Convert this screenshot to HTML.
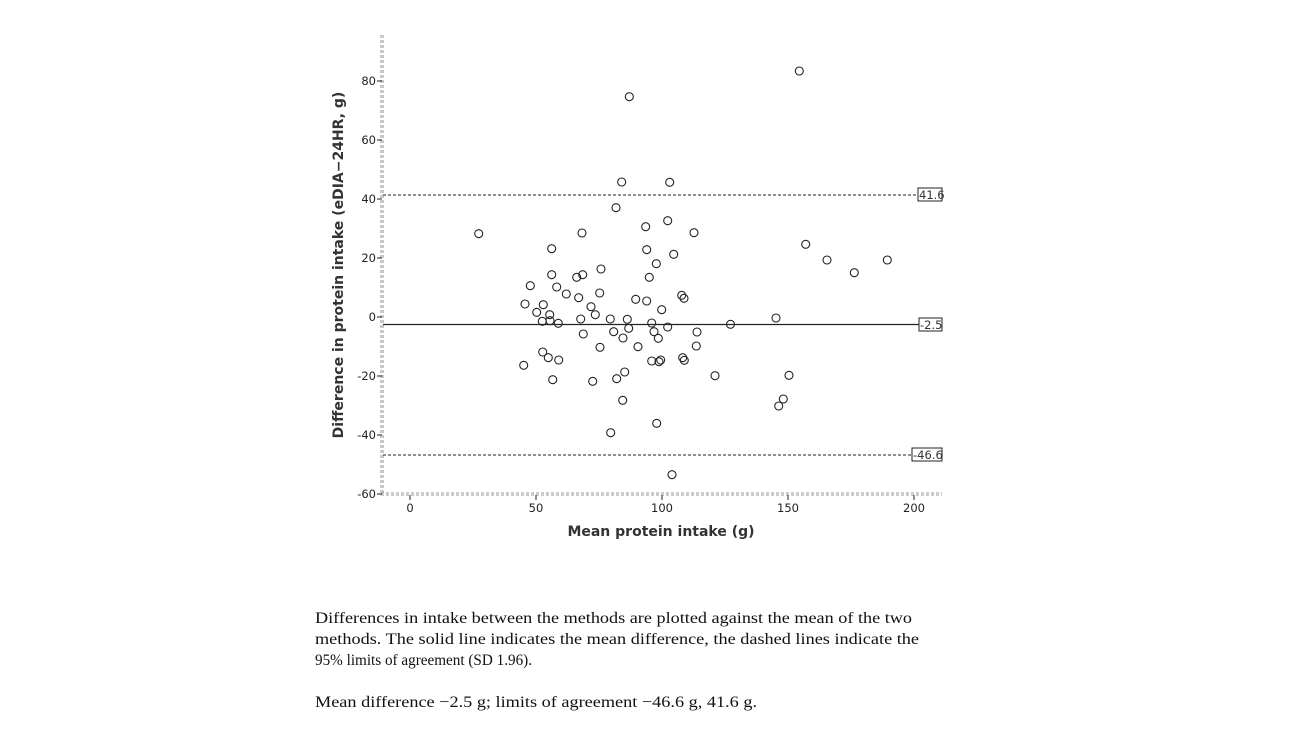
<!DOCTYPE html>
<html><head><meta charset="utf-8"><style>
html,body{margin:0;padding:0;background:#fff;}
svg{display:block;}
</style></head><body>
<svg width="1300" height="735" viewBox="0 0 1300 735" xmlns="http://www.w3.org/2000/svg">
<rect width="1300" height="735" fill="#fff"/>
<line x1="381" y1="35" x2="381" y2="495" stroke="#777" stroke-width="0.8" stroke-dasharray="3,2"/>
<line x1="383" y1="35" x2="383" y2="495" stroke="#777" stroke-width="0.8" stroke-dasharray="3,2"/>
<line x1="381" y1="493" x2="942" y2="493" stroke="#777" stroke-width="0.8" stroke-dasharray="3,2"/>
<line x1="381" y1="495" x2="942" y2="495" stroke="#777" stroke-width="0.8" stroke-dasharray="3,2"/>
<g stroke="#222" stroke-width="1">
<line x1="377" y1="81" x2="382" y2="81"/><line x1="377" y1="140" x2="382" y2="140"/>
<line x1="377" y1="199" x2="382" y2="199"/><line x1="377" y1="258" x2="382" y2="258"/>
<line x1="377" y1="317" x2="382" y2="317"/><line x1="377" y1="376" x2="382" y2="376"/>
<line x1="377" y1="435" x2="382" y2="435"/><line x1="377" y1="494" x2="382" y2="494"/>
<line x1="410" y1="495" x2="410" y2="500"/><line x1="536" y1="495" x2="536" y2="500"/>
<line x1="662" y1="495" x2="662" y2="500"/><line x1="788" y1="495" x2="788" y2="500"/>
<line x1="914" y1="495" x2="914" y2="500"/>
</g>
<g font-family="DejaVu Sans, sans-serif" font-size="11.5" fill="#222" text-anchor="end">
<text x="376" y="85">80</text><text x="376" y="144">60</text><text x="376" y="203">40</text>
<text x="376" y="262">20</text><text x="376" y="321">0</text><text x="376" y="380">-20</text>
<text x="376" y="439">-40</text><text x="376" y="498">-60</text>
</g>
<g font-family="DejaVu Sans, sans-serif" font-size="11.5" fill="#222" text-anchor="middle">
<text x="410" y="512">0</text><text x="536" y="512">50</text><text x="662" y="512">100</text>
<text x="788" y="512">150</text><text x="914" y="512">200</text>
</g>
<text x="661" y="536" font-family="DejaVu Sans, sans-serif" font-size="14" font-weight="bold" fill="#333" text-anchor="middle">Mean protein intake (g)</text>
<text transform="translate(343,265) rotate(-90)" font-family="DejaVu Sans, sans-serif" font-size="14" font-weight="bold" fill="#333" text-anchor="middle">Difference in protein intake (eDIA−24HR, g)</text>
<line x1="383" y1="195" x2="918" y2="195" stroke="#222" stroke-dasharray="3,2"/>
<line x1="383" y1="324.5" x2="919" y2="324.5" stroke="#222" stroke-width="1.2"/>
<line x1="383" y1="455" x2="912" y2="455" stroke="#222" stroke-dasharray="3,2"/>
<g font-family="DejaVu Sans, sans-serif" font-size="11.5" fill="#333">
<rect x="918" y="188" width="24" height="13" fill="#fff" stroke="#222"/><text x="919" y="199">41.6</text>
<rect x="919" y="318" width="23" height="13" fill="#fff" stroke="#222"/><text x="920" y="329">-2.5</text>
<rect x="912" y="448" width="30" height="13" fill="#fff" stroke="#222"/><text x="913" y="459">-46.6</text>
</g>
<g fill="none" stroke="#222" stroke-width="1.1">
<circle cx="478.7" cy="233.7" r="4"/><circle cx="629.3" cy="96.7" r="4"/><circle cx="799.3" cy="71" r="4"/>
<circle cx="621.7" cy="182" r="4"/><circle cx="669.7" cy="182.3" r="4"/><circle cx="616" cy="207.7" r="4"/>
<circle cx="582" cy="233" r="4"/><circle cx="645.7" cy="226.7" r="4"/><circle cx="667.7" cy="220.7" r="4"/>
<circle cx="694" cy="232.7" r="4"/><circle cx="551.7" cy="248.7" r="4"/><circle cx="646.7" cy="249.7" r="4"/>
<circle cx="673.7" cy="254.3" r="4"/><circle cx="656.3" cy="263.7" r="4"/><circle cx="601" cy="269" r="4"/>
<circle cx="551.7" cy="274.7" r="4"/><circle cx="576.7" cy="277.3" r="4"/><circle cx="582.7" cy="274.7" r="4"/>
<circle cx="649.3" cy="277.3" r="4"/><circle cx="530.3" cy="285.7" r="4"/><circle cx="556.7" cy="287" r="4"/>
<circle cx="566.3" cy="294" r="4"/><circle cx="599.7" cy="293" r="4"/><circle cx="578.7" cy="297.7" r="4"/>
<circle cx="681.7" cy="295.3" r="4"/><circle cx="684" cy="298.3" r="4"/><circle cx="635.7" cy="299.3" r="4"/>
<circle cx="646.7" cy="301" r="4"/><circle cx="525" cy="304" r="4"/><circle cx="543.3" cy="304.7" r="4"/>
<circle cx="536.7" cy="312.3" r="4"/><circle cx="549.7" cy="314.7" r="4"/><circle cx="542.3" cy="321.3" r="4"/>
<circle cx="550" cy="320.7" r="4"/><circle cx="558.3" cy="323.3" r="4"/><circle cx="591" cy="306.7" r="4"/>
<circle cx="595.3" cy="314.7" r="4"/><circle cx="661.7" cy="309.7" r="4"/><circle cx="580.7" cy="319" r="4"/>
<circle cx="610.3" cy="319" r="4"/><circle cx="627.3" cy="319.3" r="4"/><circle cx="651.7" cy="323" r="4"/>
<circle cx="667.7" cy="327" r="4"/><circle cx="730.5" cy="324.3" r="4"/><circle cx="583.3" cy="334" r="4"/>
<circle cx="613.7" cy="331.7" r="4"/><circle cx="628.7" cy="328.3" r="4"/><circle cx="623" cy="338" r="4"/>
<circle cx="654" cy="331.7" r="4"/><circle cx="658.3" cy="338.3" r="4"/><circle cx="697" cy="332" r="4"/>
<circle cx="776" cy="318" r="4"/><circle cx="600" cy="347.3" r="4"/><circle cx="638" cy="346.7" r="4"/>
<circle cx="696.3" cy="346" r="4"/><circle cx="542.7" cy="352" r="4"/><circle cx="548.3" cy="357.7" r="4"/>
<circle cx="558.7" cy="360" r="4"/><circle cx="523.7" cy="365.3" r="4"/><circle cx="651.7" cy="361" r="4"/>
<circle cx="659" cy="361.7" r="4"/><circle cx="660.7" cy="360" r="4"/><circle cx="682.7" cy="357.7" r="4"/>
<circle cx="684.3" cy="360.3" r="4"/><circle cx="624.7" cy="372" r="4"/><circle cx="616.7" cy="378.7" r="4"/>
<circle cx="592.7" cy="381.3" r="4"/><circle cx="552.7" cy="379.7" r="4"/><circle cx="715" cy="375.7" r="4"/>
<circle cx="789" cy="375.3" r="4"/><circle cx="783.3" cy="399" r="4"/><circle cx="778.7" cy="406" r="4"/>
<circle cx="622.7" cy="400.3" r="4"/><circle cx="610.7" cy="432.7" r="4"/><circle cx="656.7" cy="423.3" r="4"/>
<circle cx="672" cy="474.7" r="4"/><circle cx="805.7" cy="244.3" r="4"/><circle cx="827" cy="260" r="4"/>
<circle cx="887.3" cy="260" r="4"/><circle cx="854.3" cy="272.7" r="4"/>
</g>
<g font-family="Liberation Serif, serif" font-size="16" fill="#111">
<text x="315" y="623" textLength="597" lengthAdjust="spacingAndGlyphs">Differences in intake between the methods are plotted against the mean of the two</text>
<text x="315" y="644" textLength="604" lengthAdjust="spacingAndGlyphs">methods. The solid line indicates the mean difference, the dashed lines indicate the</text>
<text x="315" y="665" textLength="217" lengthAdjust="spacingAndGlyphs">95% limits of agreement (SD 1.96).</text>
<text x="315" y="707" textLength="442" lengthAdjust="spacingAndGlyphs">Mean difference −2.5 g; limits of agreement −46.6 g, 41.6 g.</text>
</g>
</svg>
</body></html>
